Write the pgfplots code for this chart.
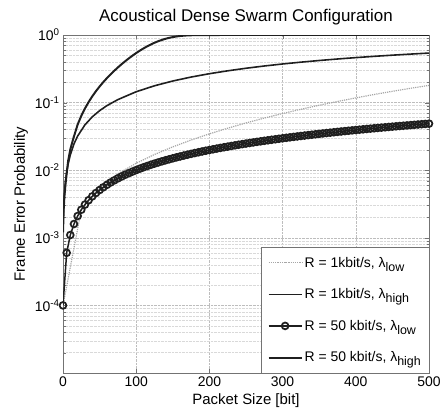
\documentclass[border=0pt]{standalone}
\usepackage{fontspec}
\setmainfont{Liberation Sans}
\usepackage{pgfplots}
\usepackage{pgfplotstable}
\pgfplotsset{compat=1.18}

\pgfplotstableread{
L f
0 0.0001
25 0.0026
50 0.00555
75 0.00885
100 0.01267
125 0.01708
150 0.02215
175 0.02794
200 0.03448
225 0.04182
250 0.05000
275 0.05902
300 0.06892
325 0.07970
350 0.09139
375 0.10396
400 0.1174
425 0.1318
450 0.1470
475 0.1630
500 0.1798
}\lowone

\pgfplotstableread{
L f
0 0.00155
1 0.00309
3 0.00618
5 0.00926
7 0.0123
10 0.0169
15 0.0245
20 0.0320
30 0.0469
40 0.0616
50 0.0760
60 0.0902
75 0.1108
100 0.1448
125 0.1774
150 0.2087
175 0.2388
200 0.2676
225 0.2953
250 0.3222
275 0.3480
300 0.3727
325 0.3966
350 0.4195
375 0.4417
400 0.4629
425 0.4834
450 0.5031
475 0.5221
500 0.5404
}\highone

\pgfplotstableread{
L f
0 0.0001
5 0.0006
10 0.0011
15 0.0016
20 0.0021
25 0.0026
30 0.0031
35 0.0036
40 0.0041
45 0.0046
50 0.00509
55 0.00558
60 0.00608
65 0.00658
70 0.00707
75 0.00757
80 0.00807
85 0.00856
90 0.00906
95 0.00955
100 0.01005
105 0.01054
110 0.01104
115 0.01153
120 0.01203
125 0.01252
130 0.01301
135 0.01351
140 0.01400
145 0.01449
150 0.01499
155 0.01548
160 0.01597
165 0.01646
170 0.01695
175 0.01745
180 0.01794
185 0.01843
190 0.01892
195 0.01941
200 0.01990
205 0.02039
210 0.02088
215 0.02137
220 0.02186
225 0.02234
230 0.02283
235 0.02332
240 0.02381
245 0.02430
250 0.02478
255 0.02527
260 0.02576
265 0.02625
270 0.02673
275 0.02722
280 0.02771
285 0.02819
290 0.02868
295 0.02916
300 0.02965
305 0.03013
310 0.03062
315 0.03110
320 0.03158
325 0.03207
330 0.03255
335 0.03304
340 0.03352
345 0.03400
350 0.03448
355 0.03497
360 0.03545
365 0.03593
370 0.03641
375 0.03689
380 0.03737
385 0.03785
390 0.03834
395 0.03882
400 0.03930
405 0.03978
410 0.04026
415 0.04073
420 0.04121
425 0.04169
430 0.04217
435 0.04265
440 0.04313
445 0.04361
450 0.04408
455 0.04456
460 0.04504
465 0.04551
470 0.04599
475 0.04647
480 0.04694
485 0.04742
490 0.04789
495 0.04837
500 0.04884
}\lowfifty

\pgfplotstableread{
L f
0 0.0012
1 0.0027
2 0.0042
4 0.0072
7 0.0137
10 0.0203
14 0.0292
20 0.0473
25 0.0637
30 0.0819
35 0.1019
40 0.1238
45 0.1475
50 0.1731
55 0.2007
60 0.2302
65 0.2618
70 0.2955
75 0.3314
80 0.3695
85 0.4097
90 0.4517
95 0.4956
100 0.5408
105 0.5869
110 0.6334
115 0.6796
120 0.7246
125 0.7678
130 0.8084
135 0.8456
140 0.8788
145 0.9075
150 0.9317
155 0.9513
160 0.9666
165 0.9781
170 0.9862
180 0.9953
190 0.9988
200 0.9997
220 1
300 1
400 1
500 1
}\highfifty

\begin{document}
\begin{tikzpicture}
\begin{semilogyaxis}[
  scale only axis,
  width=366bp, height=338bp,
  xmin=0, xmax=500, ymin=1e-5, ymax=1,
  xtick={0,100,200,300,400,500},
  xticklabels={0,100,200,300,400,500},
  ytick={1e-4,1e-3,1e-2,1e-1,1},
  yticklabels={10\textsuperscript{-4},10\textsuperscript{-3},10\textsuperscript{-2},10\textsuperscript{-1},10\textsuperscript{0}},
  minor ytick={2e-5,3e-5,4e-5,5e-5,6e-5,7e-5,8e-5,9e-5,
    2e-4,3e-4,4e-4,5e-4,6e-4,7e-4,8e-4,9e-4,
    2e-3,3e-3,4e-3,5e-3,6e-3,7e-3,8e-3,9e-3,
    2e-2,3e-2,4e-2,5e-2,6e-2,7e-2,8e-2,9e-2,
    0.2,0.3,0.4,0.5,0.6,0.7,0.8,0.9},
  tick label style={font=\fontsize{14}{16}\selectfont},
  label style={font=\fontsize{15}{18}\selectfont},
  title style={font=\fontsize{17}{20}\selectfont},
  title={Acoustical Dense Swarm Configuration},
  xlabel={Packet Size [bit]},
  ylabel={Frame Error Probability},
  grid=both,
  major grid style={densely dotted, black!26},
  minor grid style={densely dotted, black!15},
  tick align=inside,
  major tick length=4bp,
  minor tick length=2.5bp,
  axis line style={black!55},
  tick style={black!55},
  legend image code/.code={\draw[mark repeat=2,mark phase=2,#1] plot coordinates {(0bp,0bp) (16.5bp,0bp) (33bp,0bp)};},
  legend cell align=left,
  legend style={at={(rel axis cs:1,0)}, anchor=south east, draw=black!55, fill=white,
    font=\fontsize{14}{16}\selectfont, row sep=16bp, inner xsep=6bp, inner ysep=7.5bp},
]
\coordinate (SW) at (rel axis cs:0,0);
\addplot[draw=black!35, densely dotted, line width=1.2pt] table[x=L,y=f] {\lowone};
\addlegendentry{R = 1kbit/s, λ\raisebox{-4bp}{\fontsize{12.5}{14}\selectfont low}}
\addplot[draw=black!88, line width=1.6pt] table[x=L,y=f] {\highone};
\addlegendentry{R = 1kbit/s, λ\raisebox{-4bp}{\fontsize{12.5}{14}\selectfont high}}
\addplot[draw=black!88, line width=1.5pt, mark=o, mark size=3.4bp, mark options={solid, line width=1.75pt}] table[x=L,y=f] {\lowfifty};
\addlegendentry{R = 50 kbit/s, λ\raisebox{-4bp}{\fontsize{12.5}{14}\selectfont low}}
\addplot[draw=black!88, line width=2pt] table[x=L,y=f] {\highfifty};
\addlegendentry{R = 50 kbit/s, λ\raisebox{-4bp}{\fontsize{12.5}{14}\selectfont high}}
\end{semilogyaxis}
\pgfresetboundingbox
\path[use as bounding box] ([xshift=-63bp,yshift=-41bp]SW) rectangle ++(443bp,414bp);
\end{tikzpicture}
\end{document}
